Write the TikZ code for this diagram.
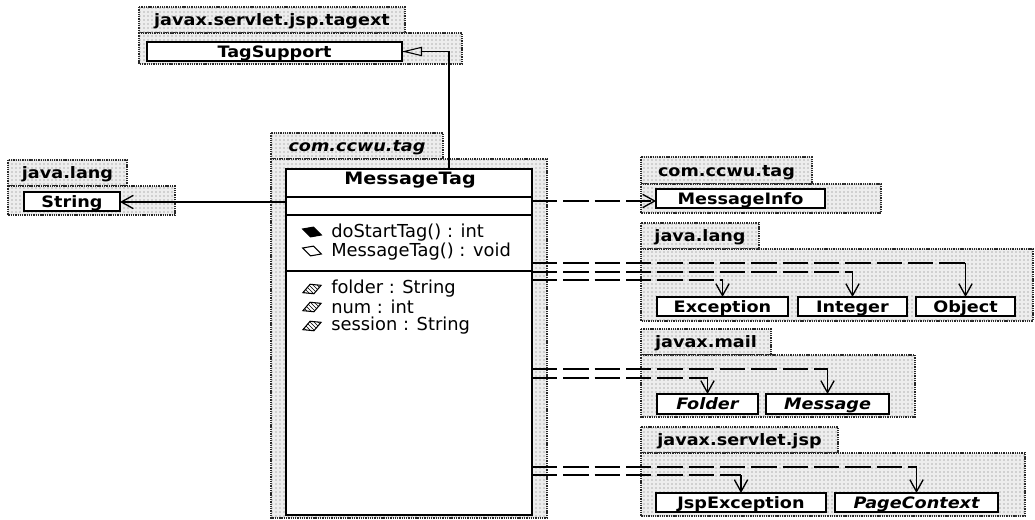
\documentclass[tikz,border=0pt]{standalone}
\usepackage{fontspec}
\usetikzlibrary{arrows.meta,shapes.geometric,patterns,calc}
\newfontfamily\titlefont[FakeStretch=1.12]{DejaVu Sans Bold}[BoldFont={DejaVu Sans Bold},ItalicFont={DejaVu Sans Bold Oblique}]
\newfontfamily\memberfont{DejaVu Sans}
\tikzset{
  pkgshape/.style={draw=black!85,line width=1pt,dash pattern=on 1pt off 0.7pt,fill=black!7},
  pkgdots/.style={pattern=dots,pattern color=black!55},
  pkglabel/.style={font=\titlefont\fontsize{11.8}{13}\selectfont,inner sep=0pt,text height=8.6pt,text depth=0pt},
  classbox/.style={draw=black,line width=1.5pt,fill=white,inner sep=0pt,outer sep=0pt,font=\titlefont\fontsize{11.8}{13}\selectfont,text=black,text height=8.6pt,text depth=0pt},
  membertext/.style={font=\memberfont\fontsize{13.4}{15}\selectfont,anchor=west,inner sep=0pt},
  iconshape/.style={shape=diamond,draw=black,line width=0.8pt,minimum width=15pt,minimum height=8pt,inner sep=0pt,aspect=2},
  solidlink/.style={draw=black,line width=1.1pt},
  deplink/.style={draw=black,line width=1.1pt,dash pattern=on 19pt off 4.5pt},
  opentip/.style={-{Straight Barb[length=9pt,width=10pt,line width=1pt]}},
  hollowtip/.style={-{Triangle[open,length=15pt,width=7pt,line width=0.8pt]}}
}
\newcommand{\pkgbox}[8]{% name x1 tabx2 y1 y2 bodyx2 y3 label
  \draw[pkgshape] (#2,#4) rectangle (#3,#5);
  \draw[pkgshape] (#2,#5) rectangle (#6,#7);
  \fill[pkgdots] (#2,#4) rectangle (#3,#5);
  \fill[pkgdots] (#2,#5) rectangle (#6,#7);
  \node[pkglabel] (#1) at ({(#2+#3)/2},{(#4+#5)/2}) {#8};
}
\newcommand{\clsbox}[6]{% name x1 y1 x2 y2 text
  \node[classbox,minimum width={(#4-#2)*0.75pt},minimum height={(#5-#3)*0.75pt}] (#1) at ({(#2+#4)/2},{(#3+#5)/2}) {#6};
}
\newcommand{\deplinkto}[2]{% start coordinate, target class
  \draw[deplink] (#1) -- (#1 -| #2.north);
  \draw[solidlink,opentip] (#1 -| #2.north) -- (#2.north);
}
\begin{document}
\begin{tikzpicture}[x=0.75pt,y=-0.75pt]
\useasboundingbox (0,0) rectangle (1035,520);
\fill[white] (0,0) rectangle (1035,520);

\pkgbox{ptag}{139}{405}{7}{33}{462}{64}{javax.servlet.jsp.tagext}
\pkgbox{pmain}{271}{443}{133}{159}{547}{518}{\itshape com.ccwu.tag}
\pkgbox{pleft}{8}{127}{160}{186}{175}{215}{java.lang}
\pkgbox{pinfo}{641}{812}{157}{184}{881}{213}{com.ccwu.tag}
\pkgbox{plang}{641}{759}{223}{249}{1033}{321}{java.lang}
\pkgbox{pmail}{641}{771}{329}{355}{915}{417}{javax.mail}
\pkgbox{pjsp}{641}{838}{427}{453}{1025}{516}{javax.servlet.jsp}

\clsbox{tag}{147}{42}{402}{61}{TagSupport}
\clsbox{str}{24}{192}{120}{211}{String}
\clsbox{info}{656}{189}{825}{208}{MessageInfo}
\clsbox{exc}{657}{297}{788}{316}{Exception}
\clsbox{int}{798}{297}{907}{316}{Integer}
\clsbox{obj}{916}{297}{1015}{316}{Object}
\clsbox{fol}{657}{394}{758}{414}{\itshape Folder}
\clsbox{msg}{766}{394}{889}{414}{\itshape Message}
\clsbox{jspe}{656}{493}{826}{512}{JspException}
\clsbox{pctx}{835}{493}{998}{512}{\itshape PageContext}

\clsbox{mt}{286}{169}{532}{515}{}
\node[pkglabel,font=\titlefont\fontsize{12.8}{14}\selectfont] (mttitle) at (410,179) {MessageTag};
\coordinate (sa) at (286,197);
\coordinate (sb) at (286,215);
\coordinate (sc) at (286,271);
\draw[line width=1.3pt] (sa) -- (sa -| mt.east);
\draw[line width=1.3pt] (sb) -- (sb -| mt.east);
\draw[line width=1.3pt] (sc) -- (sc -| mt.east);

\node[iconshape,fill=black,rotate=-18] (i1) at (312,232) {};
\node[iconshape,fill=white,rotate=-18] (i2) at (312,251) {};
\node[iconshape,fill=white,pattern=north west lines,rotate=22] (i3) at (312,289) {};
\node[iconshape,fill=white,pattern=north west lines,rotate=22] (i4) at (312,307) {};
\node[iconshape,fill=white,pattern=north west lines,rotate=22] (i5) at (312,326) {};
\node[membertext] (m1) at (331,233) {doStartTag() : int};
\node[membertext] (m2) at (331,252) {MessageTag() : void};
\node[membertext] (a1) at (331,289) {folder : String};
\node[membertext] (a2) at (331,307) {num : int};
\node[membertext] (a3) at (331,326) {session : String};

% generalisation
\coordinate (gs) at (449,169);
\draw[solidlink,hollowtip] (gs) |- (tag.east);
% association
\coordinate (as) at (286,202);
\draw[solidlink,opentip] (as) -- (as -| str.east);
% dependencies
\coordinate (d0) at (532,201);
\coordinate (d1) at (532,263);
\coordinate (d2) at (532,272);
\coordinate (d3) at (532,280);
\coordinate (d4) at (532,369);
\coordinate (d5) at (532,378);
\coordinate (d6) at (532,467);
\coordinate (d7) at (532,475);
\draw[deplink,opentip] (d0) -- (d0 -| info.west);
\deplinkto{d1}{obj}
\deplinkto{d2}{int}
\deplinkto{d3}{exc}
\deplinkto{d4}{msg}
\deplinkto{d5}{fol}
\deplinkto{d6}{pctx}
\deplinkto{d7}{jspe}
\end{tikzpicture}
\end{document}
